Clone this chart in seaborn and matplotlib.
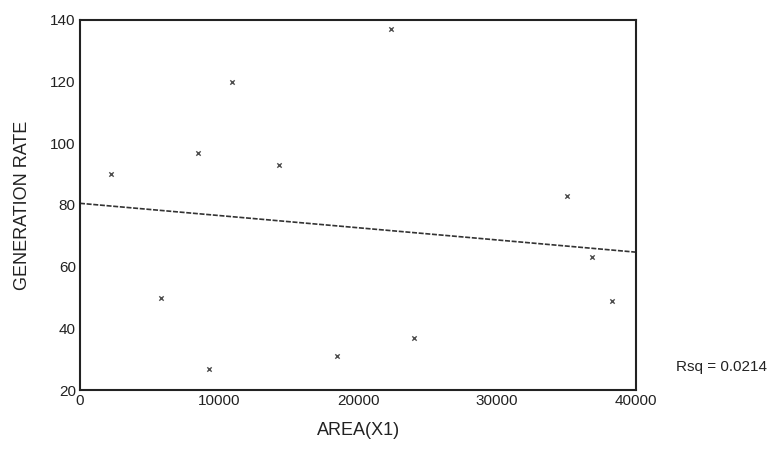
import matplotlib
matplotlib.use("Agg")
import matplotlib.pyplot as plt
import seaborn as sns
import pandas as pd

area = [2200, 5800, 8500, 9300, 10900, 14300, 18500, 22400, 24000, 35000, 36800, 38300]
rate = [90, 50, 97, 27, 120, 93, 31, 137, 37, 83, 63, 49]
x_ticks = [0, 10000, 20000, 30000, 40000]
y_ticks = [20, 40, 60, 80, 100, 120, 140]
rsq_label = "Rsq = 0.0214"

df = pd.DataFrame({"AREA(X1)": area, "GENERATION RATE": rate})

sns.set_style("white")
plt.rcParams["font.family"] = ["Liberation Sans", "DejaVu Sans"]

fig = plt.figure(figsize=(7.72, 4.51), dpi=100)
ax = fig.add_axes([0.1036, 0.135, 0.7204, 0.821])
ax.set_xlim(0, 40000)
ax.set_ylim(20, 140)

sns.regplot(data=df, x="AREA(X1)", y="GENERATION RATE", ax=ax, ci=None,
            truncate=False, marker="x",
            scatter_kws={"s": 10, "color": "#222222", "linewidths": 1.0},
            line_kws={"color": "#333333", "lw": 1.2, "ls": (0, (3, 1))})
ax.set_xlim(0, 40000)
ax.set_ylim(20, 140)

ax.set_xticks(x_ticks)
ax.set_yticks(y_ticks)
ax.tick_params(axis="both", direction="inout", length=4, width=3, color="#111111",
               labelsize=11, labelcolor="#222222", pad=1)
for s in ax.spines.values():
    s.set_visible(True)
    s.set_color("#222222")
    s.set_linewidth(1.5)

ax.set_xlabel("AREA(X1)", fontsize=13, color="#222222", labelpad=10)
ax.set_ylabel("GENERATION RATE", fontsize=13, color="#222222", labelpad=14)
ax.text(1.072, 0.062, rsq_label, transform=ax.transAxes, fontsize=11,
        color="#222222", ha="left", va="center")

fig.savefig("out.png", dpi=100)
